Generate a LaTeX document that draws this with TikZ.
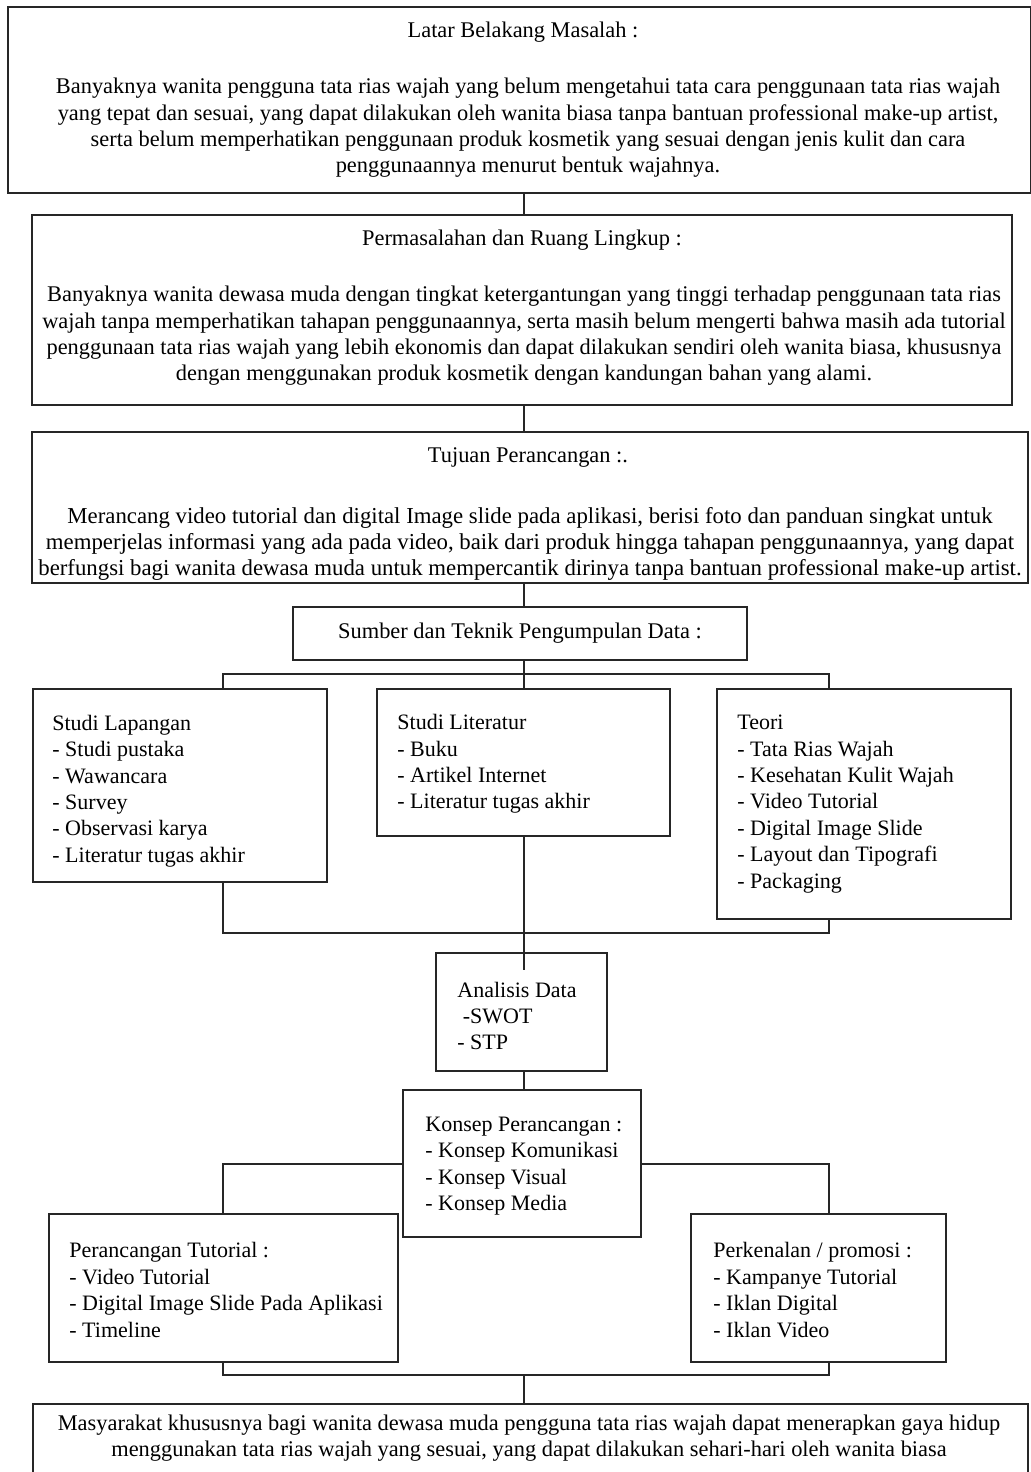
\documentclass[tikz,border=0pt]{standalone}
\usepackage{fontspec}
\setmainfont{Liberation Serif}
\newcommand{\mkbox}[5]{\node[boxst, minimum width={(#4-#2)*0.5pt}, minimum height={(#5-#3)*0.5pt}] (#1) at ({(#2+#4)/2},{(#3+#5)/2}) {};}
\begin{document}
\begin{tikzpicture}[x=0.5pt,y=-0.5pt,
 boxst/.style={draw=black!85, line width=0.75pt, inner sep=0pt, outer sep=0pt, rectangle},
 ln/.style={draw=black!85, line width=0.85pt},
 txt/.style={inner sep=0pt, font=\fontsize{11.2pt}{13.2pt}\selectfont, align=center},
 lst/.style={inner sep=0pt, font=\fontsize{11pt}{13.2pt}\selectfont, align=left, anchor=west}]
\useasboundingbox (0,0) rectangle (1030,1472);
\fill[white] (0,0) rectangle (1030,1472);
% boxes
\mkbox{lb}{8}{7}{1031}{193}
\mkbox{pr}{32}{215}{1012}{405}
\mkbox{tj}{32}{432}{1028}{583}
\mkbox{sb}{293}{607}{747}{660}
\mkbox{sl}{33}{689}{327}{882}
\mkbox{st}{377}{689}{670}{836}
\mkbox{te}{717}{689}{1011}{919}
\mkbox{an}{436}{953}{607}{1071}
\mkbox{ko}{403}{1090}{641}{1237}
\mkbox{pt}{49}{1214}{398}{1362}
\mkbox{pk}{691}{1214}{946}{1362}
\mkbox{ms}{33}{1404}{1028}{1490}
% texts
\node[txt] (lbt) at (523,32) {Latar Belakang Masalah :};
\node[txt] (lbb) at (528,128) {Banyaknya wanita pengguna tata rias wajah yang belum mengetahui tata cara penggunaan tata rias wajah\\
yang tepat dan sesuai, yang dapat dilakukan oleh wanita biasa tanpa bantuan professional make-up artist,\\
serta belum memperhatikan penggunaan produk kosmetik yang sesuai dengan jenis kulit dan cara\\
penggunaannya menurut bentuk wajahnya.};
\node[txt] (prt) at (522,240) {Permasalahan dan Ruang Lingkup :};
\node[txt] (prb) at (524,336) {Banyaknya wanita dewasa muda dengan tingkat ketergantungan yang tinggi terhadap penggunaan tata rias\\
wajah tanpa memperhatikan tahapan penggunaannya, serta masih belum mengerti bahwa masih ada tutorial\\
penggunaan tata rias wajah yang lebih ekonomis dan dapat dilakukan sendiri oleh wanita biasa, khususnya\\
dengan menggunakan produk kosmetik dengan kandungan bahan yang alami.};
\node[txt] (tjt) at (528,457) {Tujuan Perancangan :.};
\node[txt, font=\fontsize{11.4pt}{13.2pt}\selectfont] (tjb) at (530,544) {Merancang video tutorial dan digital Image slide pada aplikasi, berisi foto dan panduan singkat untuk\\
memperjelas informasi yang ada pada video, baik dari produk hingga tahapan penggunaannya, yang dapat\\
berfungsi bagi wanita dewasa muda untuk mempercantik dirinya tanpa bantuan professional make-up artist.};
\node[txt] (sbt) at (520,633) {Sumber dan Teknik Pengumpulan Data :};
\node[lst] (slt) at (52,791) {Studi Lapangan\\- Studi pustaka\\- Wawancara\\- Survey\\- Observasi karya\\- Literatur tugas akhir};
\node[lst] (stt) at (397,764) {Studi Literatur\\- Buku\\- Artikel Internet\\- Literatur tugas akhir};
\node[lst] (tet) at (737,804) {Teori\\- Tata Rias Wajah\\- Kesehatan Kulit Wajah\\- Video Tutorial\\- Digital Image Slide\\- Layout dan Tipografi\\- Packaging};
\node[lst] (ant) at (457,1016) {Analisis Data\\\hspace*{0.25em}-SWOT\\- STP};
\node[lst] (kot) at (425,1166) {Konsep Perancangan :\\- Konsep Komunikasi\\- Konsep Visual\\- Konsep Media};
\node[lst] (ptt) at (69,1290) {Perancangan Tutorial :\\- Video Tutorial\\- Digital Image Slide Pada Aplikasi\\- Timeline};
\node[lst] (pkt) at (713,1290) {Perkenalan / promosi :\\- Kampanye Tutorial\\- Iklan Digital\\- Iklan Video};
\node[txt] (mst) at (529,1438) {Masyarakat khususnya bagi wanita dewasa muda pengguna tata rias wajah dapat menerapkan gaya hidup\\
menggunakan tata rias wajah yang sesuai, yang dapat dilakukan sehari-hari oleh wanita biasa};
% connector coordinates
\coordinate (cx) at (524,0);
\coordinate (xl) at (223,0);
\coordinate (xr) at (829,0);
\coordinate (bA) at (0,674);
\coordinate (bB) at (0,933);
\coordinate (bC) at (0,1164);
\coordinate (bD) at (0,1375);
\coordinate (anin) at (524,970);
% connectors
\draw[ln] (cx |- lb.south) -- (cx |- pr.north);
\draw[ln] (cx |- pr.south) -- (cx |- tj.north);
\draw[ln] (cx |- tj.south) -- (cx |- sb.north);
\draw[ln] (cx |- sb.south) -- (cx |- bA);
\draw[ln] (xl |- sl.north) -- (xl |- bA) -- (xr |- bA) -- (xr |- te.north);
\draw[ln] (cx |- bA) -- (cx |- st.north);
\draw[ln] (xl |- sl.south) -- (xl |- bB) -- (xr |- bB) -- (xr |- te.south);
\draw[ln] (cx |- st.south) -- (anin);
\draw[ln] (cx |- an.south) -- (cx |- ko.north);
\draw[ln] (ko.west |- bC) -- (xl |- bC) -- (xl |- pt.north);
\draw[ln] (ko.east |- bC) -- (xr |- bC) -- (xr |- pk.north);
\draw[ln] (xl |- pt.south) -- (xl |- bD) -- (xr |- bD) -- (xr |- pk.south);
\draw[ln] (cx |- bD) -- (cx |- ms.north);
\end{tikzpicture}
\end{document}
